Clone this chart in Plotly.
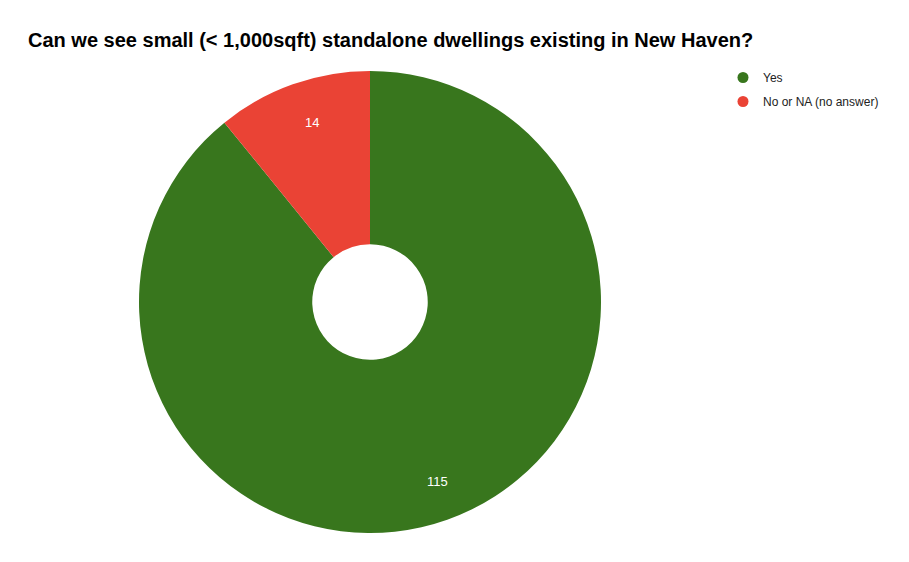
import math
import plotly.graph_objects as go

labels = ["Yes", "No or NA (no answer)"]
values = [115, 14]
colors = ["#38761d", "#ea4335"]

W, H = 909, 562
# pie geometry in figure pixels (page body adds an 8px offset)
cx, cy, rad = 362, 294, 231

fig = go.Figure()

# donut
fig.add_trace(
    go.Pie(
        labels=labels,
        values=values,
        hole=0.25,
        sort=False,
        direction="clockwise",
        rotation=0,
        marker=dict(colors=colors, line=dict(width=0)),
        textinfo="none",
        hoverinfo="label+value+percent",
        domain=dict(x=[(cx - rad) / W, (cx + rad) / W],
                    y=[1 - (cy + rad) / H, 1 - (cy - rad) / H]),
        showlegend=False,
    )
)

# value labels placed out toward the rim, like the original
total = sum(values)
start = 0.0
for v in values:
    mid = math.radians((start + v / 2) / total * 360)
    start += v
    px = cx + math.sin(mid) * rad * 0.87
    py = cy - math.cos(mid) * rad * 0.87
    fig.add_annotation(
        x=px / W, y=1 - py / H, xref="paper", yref="paper",
        text=str(v), showarrow=False,
        font=dict(color="white", size=13, family="Liberation Sans, Arial"),
    )

# circle legend entries
for lab, col in zip(labels, colors):
    fig.add_trace(
        go.Scatter(
            x=[None], y=[None], mode="markers", name=lab,
            marker=dict(color=col, size=11, symbol="circle"),
            legendgroup=lab,
        )
    )

fig.update_layout(
    width=W,
    height=H,
    paper_bgcolor="white",
    plot_bgcolor="white",
    margin=dict(l=0, r=0, t=0, b=0),
    title=dict(
        text="<b>Can we see small (< 1,000sqft) standalone dwellings existing in New Haven?</b>",
        x=20 / W, xref="paper", xanchor="left",
        y=1 - 32 / H, yref="paper", yanchor="middle",
        font=dict(size=20, color="black", family="Liberation Sans, Arial"),
    ),
    legend=dict(
        x=715 / W, y=1 - 55 / H, xanchor="left", yanchor="top",
        font=dict(size=12, color="#222222", family="Liberation Sans, Arial"),
        traceorder="grouped", tracegroupgap=5, itemwidth=30,
    ),
    xaxis=dict(visible=False),
    yaxis=dict(visible=False),
)

fig.write_html("out.html")
